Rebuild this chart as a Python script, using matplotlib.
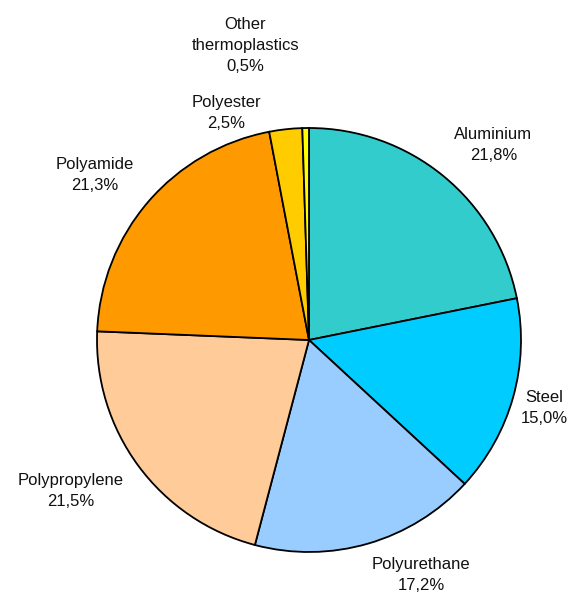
import matplotlib.pyplot as plt

materials = ['Aluminium', 'Steel', 'Polyurethane', 'Polypropylene',
             'Polyamide', 'Polyester', 'Other\nthermoplastics']
shares = [21.8, 15.0, 17.2, 21.5, 21.3, 2.5, 0.5]
colors = ['#33CCCC', '#00CCFF', '#99CCFF', '#FFCC99',
          '#FF9900', '#FFCC00', '#FFFF00']

# label centres in pie units (radius = 1)
label_pos = [(0.87, 0.92), (1.11, -0.32), (0.53, -1.11), (-1.125, -0.71),
             (-1.01, 0.78), (-0.39, 1.07), (-0.30, 1.39)]

plt.rcParams['font.family'] = ['Liberation Sans', 'DejaVu Sans']

fig = plt.figure(figsize=(5.76, 5.98), dpi=100)
ax = fig.add_axes([97 / 576, 46 / 598, 424 / 576, 424 / 598])

ax.pie(shares, colors=colors, startangle=90, counterclock=False,
       wedgeprops={'edgecolor': 'black', 'linewidth': 1.3})

for name, val, (x, y) in zip(materials, shares, label_pos):
    txt = f'{name}\n{val:.1f}%'.replace('.', ',')
    ax.text(x, y, txt, ha='center', va='center', fontsize=12,
            linespacing=1.5, color='#111111')

ax.set_xlim(-1, 1)
ax.set_ylim(-1, 1)
ax.set_aspect('equal')
ax.axis('off')

fig.savefig('out.png', dpi=100)
